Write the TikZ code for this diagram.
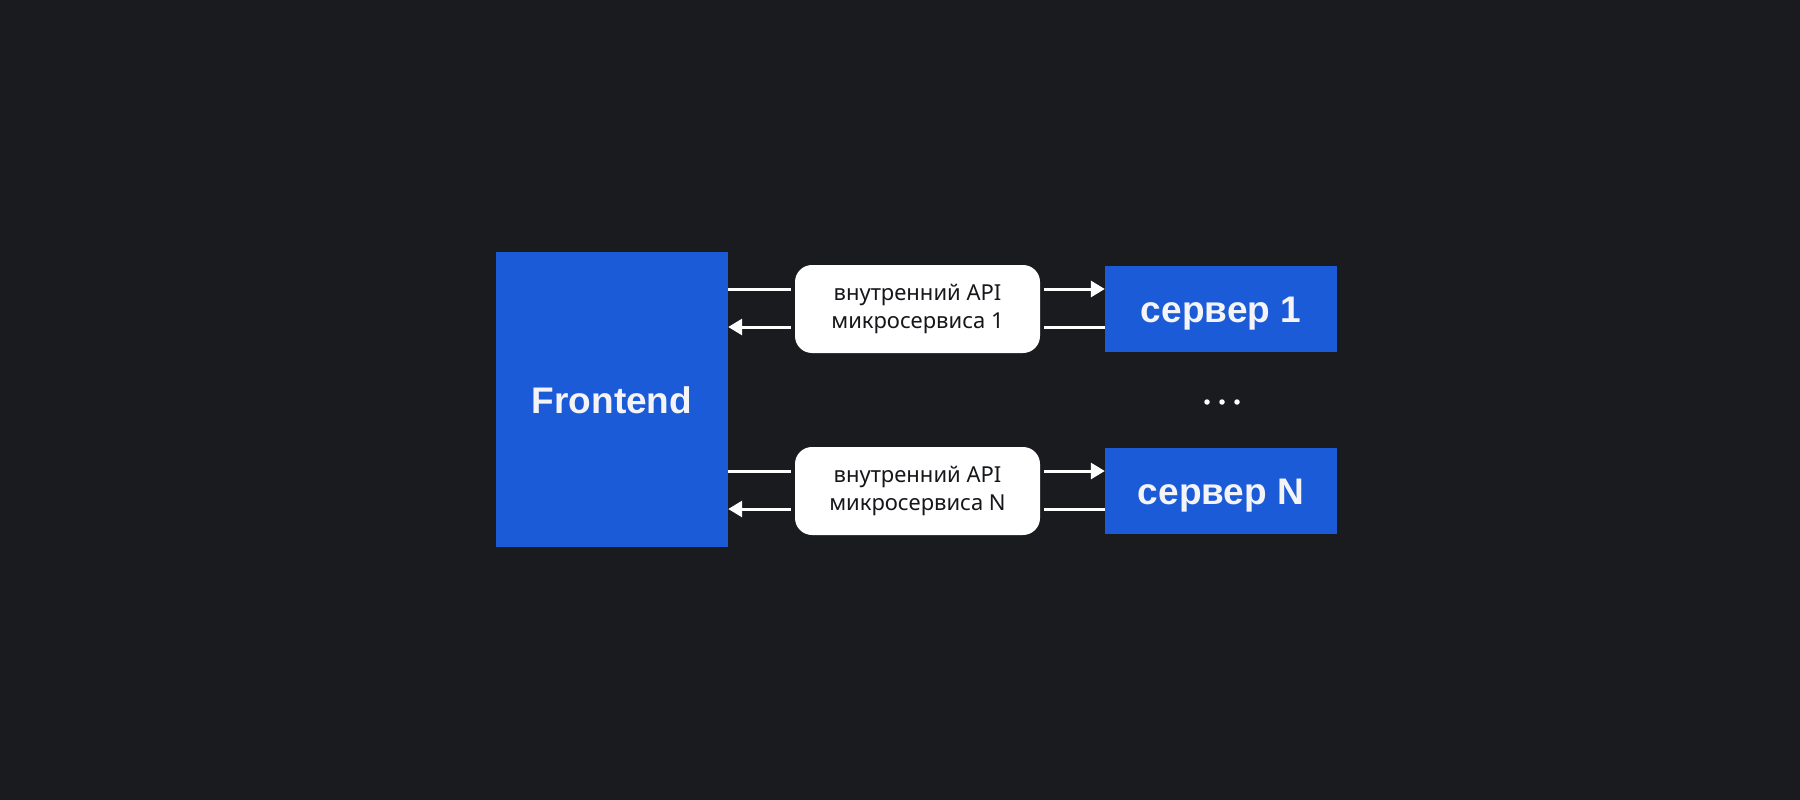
\documentclass[tikz,border=0pt]{standalone}
\usepackage{fontspec}
\setmainfont{Noto Sans}
\newfontfamily\blkfont{Liberation Sans}
\usetikzlibrary{arrows.meta,calc}
\definecolor{bg}{HTML}{1A1B1F}
\definecolor{blu}{HTML}{1C5BD7}
\definecolor{txt}{HTML}{F4F4F6}
\definecolor{ink}{HTML}{16171A}
\begin{document}
\begin{tikzpicture}[x=1pt,y=-1pt,
  blk/.style={fill=blu, draw=none, inner sep=0pt, text=txt, text height=27.5pt, text depth=0pt,
    font=\blkfont\bfseries\fontsize{37}{42}\selectfont},
  pill/.style={fill=white, draw=none, rounded corners=17pt, inner sep=0pt, text=ink, align=center,
    minimum width=245pt, minimum height=88pt, font=\fontsize{22}{28}\selectfont},
  srv/.style={blk, minimum width=232pt, minimum height=86pt},
  conn/.style={draw=white, line width=3pt},
  arr/.style={conn, -{Triangle[length=14pt,width=16pt]}},
  dot/.style={circle, fill=white, draw=none, inner sep=0pt, minimum size=5.5pt}]
\fill[bg] (0,0) rectangle (1800,800);
\useasboundingbox (0,0) rectangle (1800,800);

\node[blk, minimum width=232pt, minimum height=295pt] (fe) at (612,399.5) {Frontend};

\node[pill] (p1) at (917.5,309) {внутренний API\\микросервиса 1};
\node[pill] (p2) at (917.5,491) {внутренний API\\микросервиса N};

\node[srv] (s1) at (1221,309) {сервер 1};
\node[srv] (sN) at (1221,490.5) {сервер N};

\node[dot] (d1) at (1207,402) {};
\node[dot] (d2) at (1222,402) {};
\node[dot] (d3) at (1237,402) {};

\foreach \p/\s in {p1/s1, p2/sN}{
  \coordinate (\p a) at ($(\p.west)+(-4,-20)$);
  \coordinate (\p b) at ($(\p.west)+(-4,18)$);
  \coordinate (\p c) at ($(\p.east)+(4,-20)$);
  \coordinate (\p d) at ($(\p.east)+(4,18)$);
  \draw[conn] (\p a) -- (\p a -| fe.east);
  \draw[arr] (\p b) -- (\p b -| fe.east);
  \draw[arr] (\p c) -- (\p c -| \s.west);
  \draw[conn] (\p d) -- (\p d -| \s.west);
}
\end{tikzpicture}
\end{document}
